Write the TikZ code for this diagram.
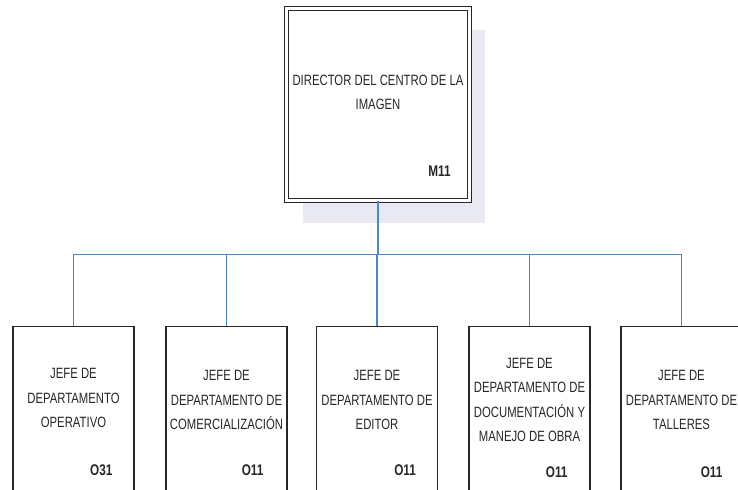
\documentclass[tikz,border=0pt]{standalone}
\usepackage{fontspec}
\setmainfont{Liberation Sans}[FakeStretch=0.76]
\usepackage{tikz}
\usetikzlibrary{calc, positioning}
\definecolor{linkblue}{RGB}{75,135,205}
\definecolor{shadowlav}{RGB}{233,233,243}

\tikzset{
  jefebox/.style={draw=black!85, line width=1pt, anchor=north, inner sep=0pt,
    minimum width=3.02cm, minimum height=4.4cm},
  dirbox/.style={draw=black!85, line width=0.7pt, double, double distance=1.6pt,
    inner sep=0pt, minimum width=4.57cm, minimum height=4.8cm},
  title/.style={align=center, text=black!85, inner sep=0pt,
    font=\fontsize{10.6}{17.3}\selectfont},
  code/.style={anchor=east, text=black!85, inner sep=0pt,
    font=\fontsize{11}{12}\selectfont\bfseries},
  link/.style={draw=linkblue, line width=0.8pt}
}

\begin{document}
\begin{tikzpicture}
  \useasboundingbox (0,0) rectangle (18.45,12.225);
  \clip (0,0) rectangle (18.45,12.225);

  % ---- Director ----
  \fill[shadowlav] (7.58,6.65) rectangle (12.12,11.475);
  \node[dirbox, fill=white] (dir) at (9.45,9.6125) {};
  \node[title] (dirtxt) at ($(dir.north)+(0,-2.11)$) {DIRECTOR DEL CENTRO DE LA\\IMAGEN};
  \node[code] (dircode) at ($(dir.north east)+(-0.475,-4.075)$) {M11};

  % ---- Jefes de departamento ----
  \node[jefebox] (j1) at (1.8375,4.075) {};
  \node[title] (j1txt) at ($(j1.north)+(0,-1.8)$) {JEFE DE\\DEPARTAMENTO\\OPERATIVO};
  \node[code] (j1code) at ($(j1.north east)+(-0.55,-3.6)$) {O31};

  \node[jefebox] (j2) at (5.6625,4.075) {};
  \node[title] (j2txt) at ($(j2.north)+(0,-1.85)$) {JEFE DE\\DEPARTAMENTO DE\\COMERCIALIZACIÓN};
  \node[code] (j2code) at ($(j2.north east)+(-0.6,-3.6)$) {O11};

  \node[jefebox] (j3) at (9.425,4.075) {};
  \node[title] (j3txt) at ($(j3.north)+(0,-1.85)$) {JEFE DE\\DEPARTAMENTO DE\\EDITOR};
  \node[code] (j3code) at ($(j3.north east)+(-0.55,-3.6)$) {O11};

  \node[jefebox] (j4) at (13.2375,4.075) {};
  \node[title] (j4txt) at ($(j4.north)+(0,-1.85)$) {JEFE DE\\DEPARTAMENTO DE\\DOCUMENTACIÓN Y\\MANEJO DE OBRA};
  \node[code] (j4code) at ($(j4.north east)+(-0.57,-3.65)$) {O11};

  \node[jefebox] (j5) at (17.0375,4.075) {};
  \node[title] (j5txt) at ($(j5.north)+(0,-1.85)$) {JEFE DE\\DEPARTAMENTO DE\\TALLERES};
  \node[code] (j5code) at ($(j5.north east)+(-0.5,-3.65)$) {O11};

  % ---- Conectores ----
  \coordinate (bus) at ($(dir.south)+(0,-1.33)$);
  \draw[link] (dir.south) -- (bus);
  \foreach \j in {j1,j2,j3,j4,j5}
    \draw[link] (bus) -| (\j.north);
\end{tikzpicture}
\end{document}
